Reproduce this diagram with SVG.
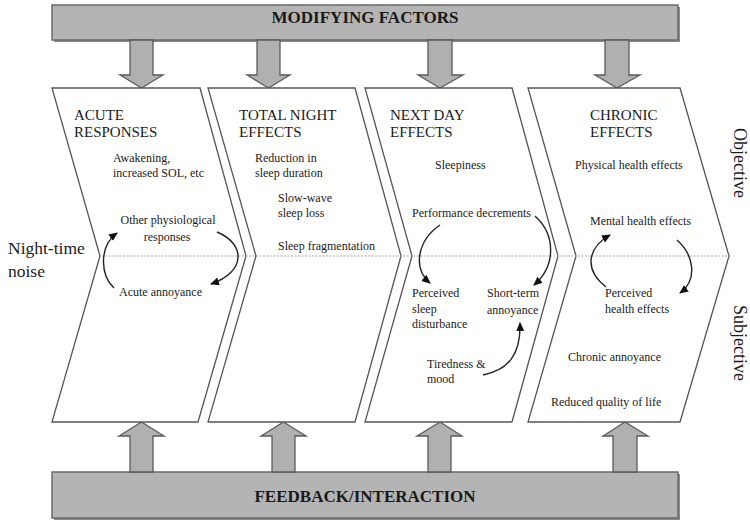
<svg xmlns="http://www.w3.org/2000/svg" width="750" height="520" viewBox="0 0 750 520">
<style>
.bar{fill:#b4b4b4;stroke:#6a6a6a;stroke-width:1.5}
.barshadow{fill:#8a8a8a}
.blk{fill:#b0b0b0;stroke:#5a5a5a;stroke-width:1.3}
.chev{fill:#ffffff;stroke:#555555;stroke-width:1.3}
.t{font-family:"Liberation Serif","Times New Roman",serif;fill:#1a1a1a}
.title{font-size:17px;font-weight:bold;text-anchor:middle}
.head{font-size:15px}
.small{font-size:12px}
.big{font-size:17.5px}
.side{font-size:18px}
.mid{text-anchor:middle}
.cur{fill:none;stroke:#222;stroke-width:1.4}
</style>
<defs>
<marker id="ah" markerWidth="10" markerHeight="10" refX="8" refY="4" orient="auto" markerUnits="userSpaceOnUse">
<path d="M0,0 L9,4 L0,8 Z" fill="#111"/>
</marker>
</defs>
<rect width="750" height="520" fill="#ffffff"/>

<g id="modifying-factors">
<rect class="barshadow" x="54" y="7" width="626" height="35"/>
<rect class="bar" x="52" y="5" width="626" height="35"/>
<text class="t title" x="365" y="23">MODIFYING FACTORS</text>
</g>

<g id="feedback-interaction">
<rect class="barshadow" x="54" y="474" width="626" height="46"/>
<rect class="bar" x="52" y="472" width="626" height="46"/>
<text class="t title" x="365" y="502">FEEDBACK/INTERACTION</text>
</g>

<g id="block-arrows">
<polygon class="blk" points="130,40 153,40 153,75 163,75 141.5,88 120,75 130,75"/>
<polygon class="blk" points="257,40 280,40 280,75 290,75 268.5,88 247,75 257,75"/>
<polygon class="blk" points="428,40 452,40 452,75 463,75 440,88 418,75 428,75"/>
<polygon class="blk" points="605,40 629,40 629,75 640,75 617,88 595,75 605,75"/>
<polygon class="blk" points="130,472 153,472 153,436 164,436 141.5,422 119,436 130,436"/>
<polygon class="blk" points="272,472 295,472 295,436 306,436 283.5,422 261,436 272,436"/>
<polygon class="blk" points="428,472 451,472 451,436 462,436 440,422 417,436 428,436"/>
<polygon class="blk" points="613,472 637,472 637,436 648,436 625,422 603,436 613,436"/>
</g>

<g id="acute-responses">
<polygon class="chev" points="52,88 200,88 246,256 198,422 52,422 100,256"/>
</g>
<g id="total-night-effects">
<polygon class="chev" points="208,88 355,88 401,256 355,422 208,422 256,256"/>
</g>
<g id="next-day-effects">
<polygon class="chev" points="365,88 512,88 558,256 512,422 365,422 412,256"/>
</g>
<g id="chronic-effects">
<polygon class="chev" points="528,88 680,88 729,256 680,422 528,422 576,256"/>
</g>

<line x1="102" y1="256" x2="729" y2="256" stroke="#a8a8a8" stroke-width="1.2" stroke-dasharray="2 1.5"/>

<g id="labels">
<text class="t big" x="8" y="254">Night-time</text>
<text class="t big" x="8" y="277">noise</text>

<text class="t head" x="74" y="120">ACUTE</text>
<text class="t head" x="74" y="137">RESPONSES</text>
<text class="t small" x="113" y="162">Awakening,</text>
<text class="t small" x="113" y="177">increased SOL, etc</text>
<text class="t small mid" x="168" y="224">Other physiological</text>
<text class="t small mid" x="167" y="241">responses</text>
<text class="t small" x="119" y="296">Acute annoyance</text>

<text class="t head" x="239" y="120">TOTAL NIGHT</text>
<text class="t head" x="239" y="137">EFFECTS</text>
<text class="t small" x="255" y="162">Reduction in</text>
<text class="t small" x="255" y="177">sleep duration</text>
<text class="t small" x="278" y="202">Slow-wave</text>
<text class="t small" x="278" y="217">sleep loss</text>
<text class="t small" x="278" y="250">Sleep fragmentation</text>

<text class="t head" x="390" y="120">NEXT DAY</text>
<text class="t head" x="390" y="137">EFFECTS</text>
<text class="t small" x="435" y="169">Sleepiness</text>
<text class="t small" x="412" y="217">Performance decrements</text>
<text class="t small" x="412" y="297">Perceived</text>
<text class="t small" x="412" y="313">sleep</text>
<text class="t small" x="412" y="328">disturbance</text>
<text class="t small" x="487" y="297">Short-term</text>
<text class="t small" x="487" y="314">annoyance</text>
<text class="t small" x="427" y="368">Tiredness &amp;</text>
<text class="t small" x="427" y="383">mood</text>

<text class="t head" x="590" y="120">CHRONIC</text>
<text class="t head" x="590" y="137">EFFECTS</text>
<text class="t small" x="575" y="169">Physical health effects</text>
<text class="t small" x="590" y="225">Mental health effects</text>
<text class="t small" x="605" y="297">Perceived</text>
<text class="t small" x="605" y="313">health effects</text>
<text class="t small" x="568" y="361">Chronic annoyance</text>
<text class="t small" x="551" y="406">Reduced quality of life</text>

<text class="t side" transform="translate(734,128) rotate(90)">Objective</text>
<text class="t side" transform="translate(734,305) rotate(90)">Subjective</text>
</g>

<g id="connectors">
<path class="cur" d="M114,288 C100,275 99,246 117,233" marker-end="url(#ah)"/>
<path class="cur" d="M217,232 C246,244 246,272 211,284" marker-end="url(#ah)"/>
<path class="cur" d="M440,225 C418,240 412,268 430,283" marker-end="url(#ah)"/>
<path class="cur" d="M535,216 C556,235 556,266 534,285" marker-end="url(#ah)"/>
<path class="cur" d="M483,375 C508,370 521,355 520,323" marker-end="url(#ah)"/>
<path class="cur" d="M606,287 C584,270 587,248 610,235" marker-end="url(#ah)"/>
<path class="cur" d="M677,240 C694,255 698,280 680,293" marker-end="url(#ah)"/>
</g>
</svg>
